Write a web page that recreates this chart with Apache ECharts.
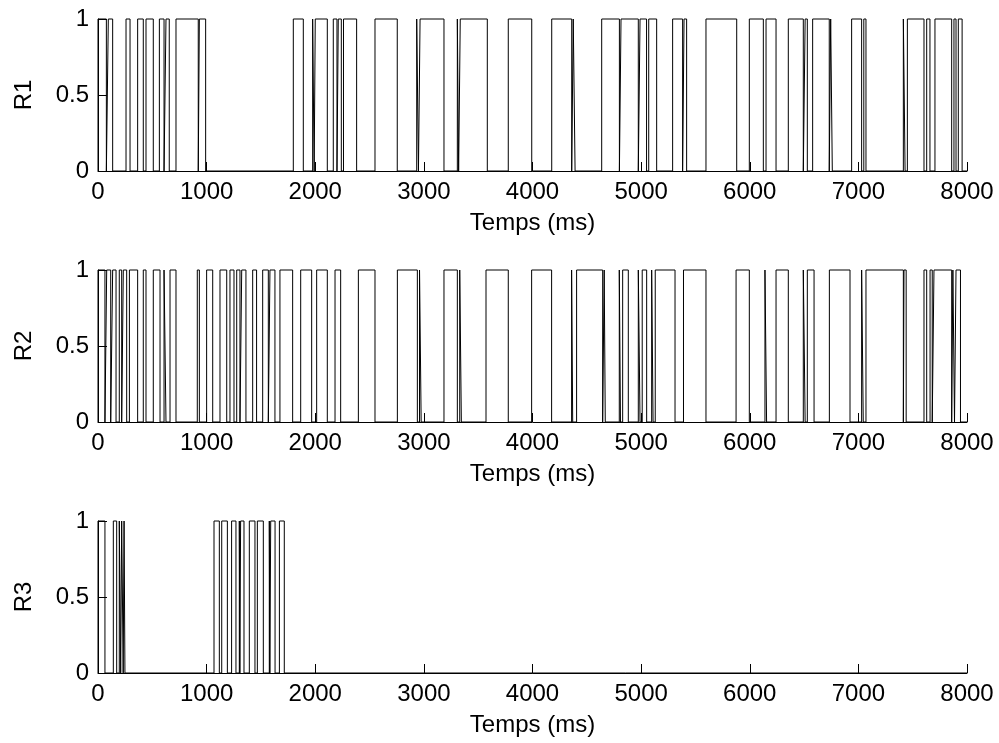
<!DOCTYPE html>
<html>
<head>
<meta charset="utf-8">
<script src="https://cdn.jsdelivr.net/npm/echarts@6/dist/echarts.min.js"></script>
<style>
  html, body { margin: 0; padding: 0; background: #fff; }
  #chart { width: 999px; height: 743px; }
</style>
</head>
<body>
<div id="chart"></div>
<script>
// pulses are [start, end] in ms where the signal is 1, otherwise 0
const r1Pulses = [
  [0, 77], [95, 135], [258, 295], [365, 417], [442, 509], [565, 608], [626, 656], [718, 923], [933, 991],
  [1798, 1890], [1976, 1990], [2000, 2111], [2166, 2200], [2212, 2240], [2260, 2381], [2550, 2755],
  [2934, 2950], [2965, 3185], [3308, 3320], [3335, 3584], [3777, 3993], [4177, 4361], [4375, 4392],
  [4637, 4800], [4815, 4974], [4990, 5050], [5070, 5143], [5290, 5382], [5395, 5419], [5597, 5880],
  [5996, 6125], [6150, 6242], [6355, 6493], [6510, 6530], [6579, 6732], [6745, 6760], [6938, 7030],
  [7050, 7070], [7414, 7430], [7451, 7604], [7629, 7659], [7705, 7859], [7880, 7899], [7920, 7955]
]
const r2Pulses = [
  [0, 64], [80, 117], [135, 166], [196, 218], [233, 264], [289, 365], [417, 442], [509, 571], [608, 626],
  [663, 718], [914, 933], [1000, 1056], [1123, 1185], [1215, 1252], [1277, 1307], [1323, 1362],
  [1424, 1460], [1516, 1568], [1583, 1629], [1675, 1792], [1866, 1967], [2013, 2111], [2182, 2234],
  [2397, 2550], [2756, 2940], [2960, 2975], [3185, 3308], [3330, 3345], [3572, 3777], [3992, 4176],
  [4360, 4370], [4406, 4646], [4660, 4670], [4799, 4810], [4830, 4882], [4974, 4990], [5010, 5051],
  [5097, 5110], [5130, 5312], [5390, 5597], [5874, 5996], [6140, 6155], [6242, 6355], [6493, 6510],
  [6530, 6592], [6733, 6923], [7030, 7045], [7070, 7414], [7420, 7440], [7604, 7629], [7660, 7680],
  [7696, 7859], [7870, 7885], [7899, 7940]
]
const r3Pulses = [
  [0, 64], [141, 172], [196, 209], [218, 232], [240, 248],
  [1068, 1117], [1139, 1191], [1230, 1270], [1301, 1306], [1313, 1344], [1393, 1445], [1467, 1522],
  [1577, 1582], [1590, 1630], [1670, 1715]
]
const seriesNames = ['R1', 'R2', 'R3']
const xTicks = { min: 0, max: 8000, step: 1000 }
const yTicks = { min: 0, max: 1, step: 0.5 }

// turn the pulse list into a step line
let toSteps = (pulses) => {
  let pts = [[0, 0]]
  pulses.forEach(p => {
    pts.push([p[0], 0], [p[0], 1], [p[1], 1], [p[1], 0])
  })
  pts.push([xTicks.max, 0])
  return pts
}

const font = "'Liberation Sans', Arial, sans-serif"
const gridTops = [19, 270, 521]
const allPulses = [r1Pulses, r2Pulses, r3Pulses]

let chart = echarts.init(document.getElementById('chart'))
chart.setOption({
  animation: false,
  backgroundColor: '#fff',
  grid: gridTops.map(t => ({ left: 98, width: 869, top: t, height: 152 })),
  xAxis: gridTops.map((t, i) => ({
    type: 'value',
    gridIndex: i,
    min: xTicks.min,
    max: xTicks.max,
    interval: xTicks.step,
    name: 'Temps (ms)',
    nameLocation: 'middle',
    nameGap: 40,
    nameTextStyle: { color: '#000', fontSize: 24, fontFamily: font },
    axisLine: { lineStyle: { color: '#000', width: 1 } },
    axisTick: { inside: true, length: 9, lineStyle: { color: '#000' } },
    axisLabel: { color: '#000', fontSize: 24, fontFamily: font, margin: 9, formatter: v => String(v) },
    splitLine: { show: false }
  })),
  yAxis: gridTops.map((t, i) => ({
    type: 'value',
    gridIndex: i,
    min: yTicks.min,
    max: yTicks.max,
    interval: yTicks.step,
    name: seriesNames[i],
    nameLocation: 'middle',
    nameGap: 62,
    nameTextStyle: { color: '#000', fontSize: 24, fontFamily: font },
    axisLine: { show: true, lineStyle: { color: '#000', width: 1 } },
    axisTick: { show: true, inside: true, length: 9, lineStyle: { color: '#000' } },
    axisLabel: { color: '#000', fontSize: 24, fontFamily: font, margin: 9, formatter: v => String(v) },
    splitLine: { show: false }
  })),
  series: allPulses.map((p, i) => ({
    type: 'line',
    name: seriesNames[i],
    xAxisIndex: i,
    yAxisIndex: i,
    data: toSteps(p),
    showSymbol: false,
    clip: false,
    lineStyle: { color: '#000', width: 1 }
  }))
})
</script>
</body>
</html>
